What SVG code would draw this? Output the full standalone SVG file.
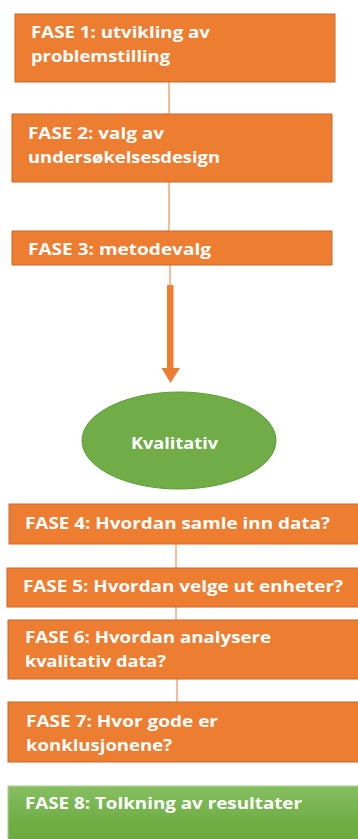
<svg xmlns="http://www.w3.org/2000/svg" width="358" height="839" viewBox="0 0 358 839">
<defs>
<linearGradient id="g8" x1="0" y1="0" x2="0" y2="1">
<stop offset="0" stop-color="#86bf62"/>
<stop offset="0.5" stop-color="#70ae45"/>
<stop offset="1" stop-color="#68a83b"/>
</linearGradient>
</defs>
<style>
.box{fill:#ED7D31;stroke:#c8692a;stroke-width:1}
.t{font-family:"Open Sans","Liberation Sans",sans-serif;font-weight:bold;font-size:16px;fill:#fff}
.c{stroke:#f3a775;stroke-width:1.5;fill:none}
</style>
<rect width="358" height="839" fill="#fff"/>
<g id="connectors">
<line class="c" x1="169" y1="82" x2="169" y2="114"/>
<line class="c" x1="169" y1="182" x2="169" y2="231"/>
<line class="c" x1="170" y1="265" x2="170" y2="286"/>
<rect x="167" y="285" width="6.5" height="84" fill="#ED7D31"/>
<polygon points="161.5,368 180,368 170.5,383" fill="#ED7D31"/>
<line class="c" x1="176" y1="544" x2="176" y2="568"/>
<line class="c" x1="176" y1="607" x2="176" y2="620"/>
<line class="c" x1="177" y1="679" x2="177" y2="702"/>
</g>
<g id="fase1">
<rect class="box" x="15" y="14" width="320" height="68"/>
<text class="t" x="31" y="38" textLength="179" lengthAdjust="spacingAndGlyphs">FASE 1: utvikling av</text>
<text class="t" x="31" y="62" textLength="139" lengthAdjust="spacingAndGlyphs">problemstilling</text>
</g>
<g id="fase2">
<rect class="box" x="12" y="114" width="320" height="68"/>
<text class="t" x="28" y="139" textLength="136" lengthAdjust="spacingAndGlyphs">FASE 2: valg av</text>
<text class="t" x="28" y="163" textLength="192" lengthAdjust="spacingAndGlyphs">undersøkelsesdesign</text>
</g>
<g id="fase3">
<rect class="box" x="12" y="231" width="320" height="34"/>
<text class="t" x="28" y="255" textLength="183" lengthAdjust="spacingAndGlyphs">FASE 3: metodevalg</text>
</g>
<g id="kvalitativ">
<ellipse cx="179" cy="440.5" rx="97" ry="48.5" fill="#70AD47" stroke="#5c9a36" stroke-width="1"/>
<text class="t" x="131" y="449" textLength="87" lengthAdjust="spacingAndGlyphs">Kvalitativ</text>
</g>
<g id="fase4">
<rect class="box" x="9" y="504" width="360" height="40"/>
<text class="t" x="25" y="529" textLength="305" lengthAdjust="spacingAndGlyphs">FASE 4: Hvordan samle inn data?</text>
</g>
<g id="fase5">
<rect class="box" x="7" y="568" width="360" height="39"/>
<text class="t" x="23" y="592" textLength="320" lengthAdjust="spacingAndGlyphs">FASE 5: Hvordan velge ut enheter?</text>
</g>
<g id="fase6">
<rect class="box" x="8" y="620" width="360" height="59"/>
<text class="t" x="25" y="643" textLength="246" lengthAdjust="spacingAndGlyphs">FASE 6: Hvordan analysere</text>
<text class="t" x="25" y="667" textLength="141" lengthAdjust="spacingAndGlyphs">kvalitativ data?</text>
</g>
<g id="fase7">
<rect class="box" x="8" y="702" width="360" height="60"/>
<text class="t" x="26" y="727" textLength="192" lengthAdjust="spacingAndGlyphs">FASE 7: Hvor gode er</text>
<text class="t" x="26" y="751" textLength="146" lengthAdjust="spacingAndGlyphs">konklusjonene?</text>
</g>
<g id="fase8">
<rect x="8" y="786" width="360" height="70" fill="url(#g8)" stroke="#a9cf8f" stroke-width="1"/>
<text class="t" x="25" y="809" textLength="277" lengthAdjust="spacingAndGlyphs">FASE 8: Tolkning av resultater</text>
</g>
</svg>
